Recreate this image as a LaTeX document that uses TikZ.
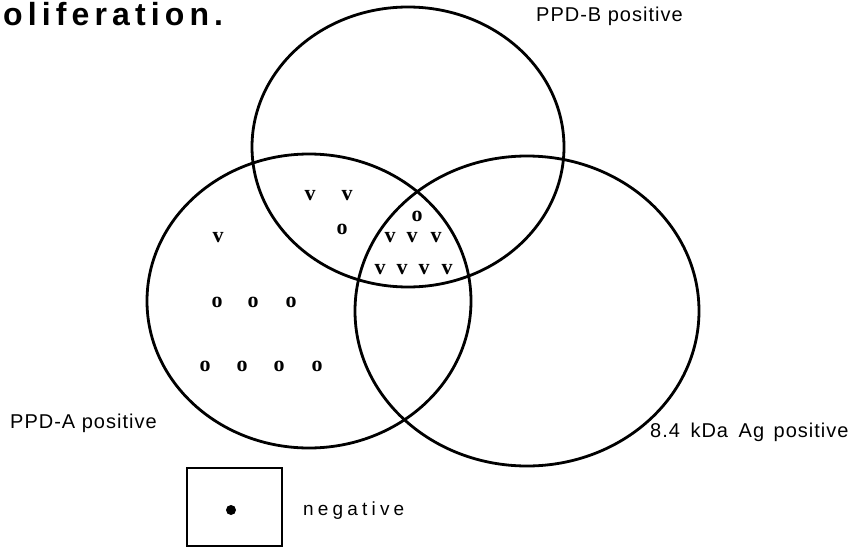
\documentclass[tikz,border=0pt]{standalone}
\usepackage{fontspec}
\setmainfont{Liberation Serif}
\newfontfamily\labelfont[LetterSpace=5]{Liberation Sans}
\newfontfamily\negfont[LetterSpace=22]{Liberation Sans}
\newfontfamily\titlefont[LetterSpace=16]{Liberation Sans}
\newfontfamily\markfont{Liberation Serif}
\begin{document}
\begin{tikzpicture}[x=1pt,y=-1pt,
  ring/.style={line width=2.8pt},
  lbl/.style={font=\labelfont\fontsize{20}{23}\selectfont, anchor=base west, inner sep=0pt},
  vmk/.style={font=\markfont\bfseries\fontsize{22}{24}\selectfont, inner sep=0pt, text height=1ex, text depth=0pt},
]
\useasboundingbox (0,0) rectangle (852,549);
% title (cropped)
\node[anchor=base west, inner sep=0pt, font=\titlefont\bfseries\fontsize{32}{36}\selectfont] (title) at (3,25) {oliferation.};
% circles
\draw[ring] (408,147) ellipse [x radius=156, y radius=140];
\draw[ring] (309,301) ellipse [x radius=162, y radius=147];
\draw[ring] (527,311) ellipse [x radius=172, y radius=155];
% labels
\node[lbl] (lb) at (536,21) {PPD-B positive};
\node[lbl] (la) at (10,428) {PPD-A positive};
\node[lbl] (lc) at (650,437) {8.4\hspace{4pt} kDa\hspace{4pt} Ag\hspace{3pt} positive};
% marks A only
\node[vmk] (m1) at (218,240) {v};
\node[vmk] (m2) at (217,305) {o};
\node[vmk] (m3) at (253,305) {o};
\node[vmk] (m4) at (291,305) {o};
\node[vmk] (m5) at (205,369) {o};
\node[vmk] (m6) at (242,369) {o};
\node[vmk] (m7) at (279,369) {o};
\node[vmk] (m8) at (317,369) {o};
% marks A and B
\node[vmk] (m9) at (310,198) {v};
\node[vmk] (m10) at (347,198) {v};
\node[vmk] (m11) at (342,232) {o};
% marks centre
\node[vmk] (m12) at (417,219) {o};
\node[vmk] (m13) at (390,240) {v};
\node[vmk] (m14) at (412,240) {v};
\node[vmk] (m15) at (436,240) {v};
\node[vmk] (m16) at (380,272) {v};
\node[vmk] (m17) at (402,272) {v};
\node[vmk] (m18) at (424,272) {v};
\node[vmk] (m19) at (447,272) {v};
% legend
\draw[line width=2pt] (187,468) rectangle (282,546);
\fill (231,510) circle [radius=5];
\node[anchor=base west, inner sep=0pt, font=\negfont\fontsize{19}{22}\selectfont] (neg) at (303,515) {negative};
\end{tikzpicture}
\end{document}
